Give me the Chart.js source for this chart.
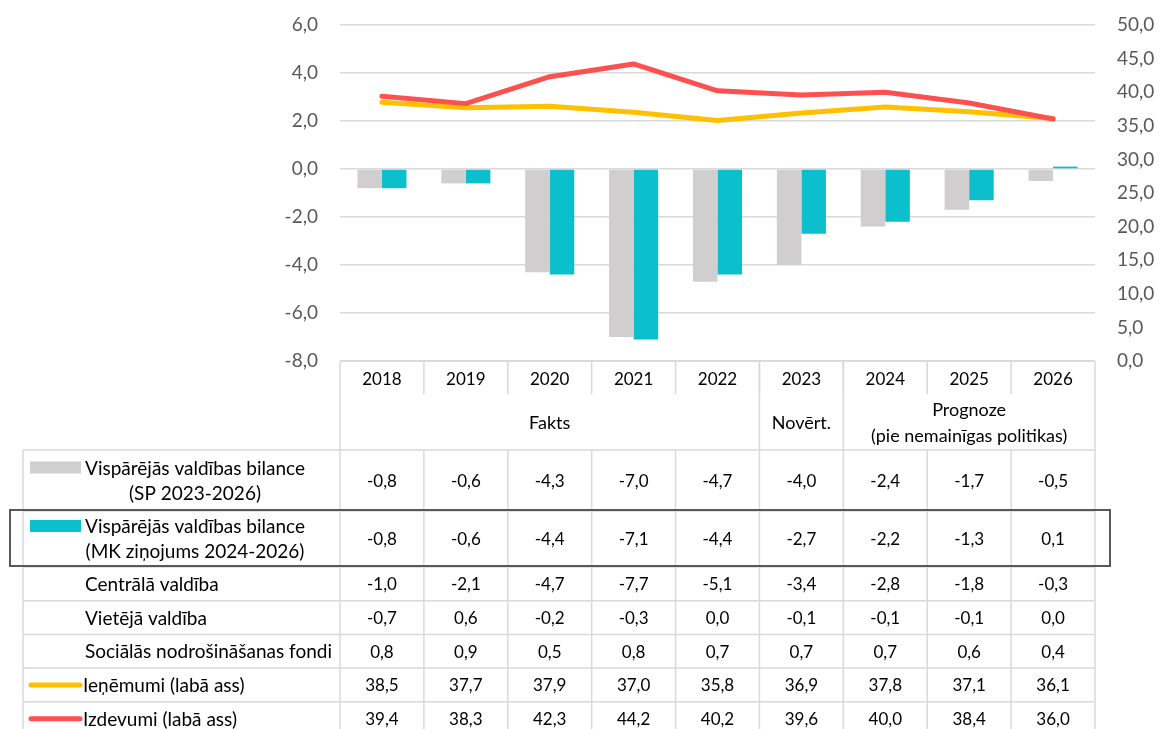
<!DOCTYPE html>
<html lang="lv">
<head>
<meta charset="utf-8">
<title>Vispārējās valdības bilance</title>
<script src="https://cdn.jsdelivr.net/npm/chart.js@4.4.1/dist/chart.umd.min.js"></script>
<style>
  html, body { margin: 0; padding: 0; background: #fff; }
  #wrap { width: 1160px; height: 729px; }
</style>
</head>
<body>
<div id="wrap"><canvas id="chart" width="1160" height="729"></canvas></div>
<script>
const years = ["2018", "2019", "2020", "2021", "2022", "2023", "2024", "2025", "2026"];
const spBalance = [-0.8, -0.6, -4.3, -7.0, -4.7, -4.0, -2.4, -1.7, -0.5];
const mkBalance = [-0.8, -0.6, -4.4, -7.1, -4.4, -2.7, -2.2, -1.3, 0.1];
const centralGov = [-1.0, -2.1, -4.7, -7.7, -5.1, -3.4, -2.8, -1.8, -0.3];
const localGov = [-0.7, 0.6, -0.2, -0.3, 0.0, -0.1, -0.1, -0.1, 0.0];
const socialFunds = [0.8, 0.9, 0.5, 0.8, 0.7, 0.7, 0.7, 0.6, 0.4];
const revenue = [38.5, 37.7, 37.9, 37.0, 35.8, 36.9, 37.8, 37.1, 36.1];
const expenditure = [39.4, 38.3, 42.3, 44.2, 40.2, 39.6, 40.0, 38.4, 36.0];

const groupLabels = [["Fakts"], ["Novērt."], ["Prognoze", "(pie nemainīgas politikas)"]];
const groupSpans = [[0, 4], [5, 5], [6, 8]];

const GRAY = "#D0CECE";
const TEAL = "#0BBFCC";
const YELLOW = "#FFC000";
const RED = "#FF5050";
const GRID = "#D9D9D9";
const FONT = "Lato, 'Open Sans', sans-serif";

const fmt = v => v.toFixed(1).replace(".", ",");

// rows of the table under the chart
const tableRows = [
  { label: ["Vispārējās valdības bilance", "(SP 2023-2026)"], values: spBalance, swatch: "box", color: GRAY, h: 61 },
  { label: ["Vispārējās valdības bilance", "(MK ziņojums 2024-2026)"], values: mkBalance, swatch: "box", color: TEAL, h: 56, boxed: true },
  { label: ["Centrālā valdība"], values: centralGov, h: 33.7 },
  { label: ["Vietējā valdība"], values: localGov, h: 33.7 },
  { label: ["Sociālās nodrošināšanas fondi"], values: socialFunds, h: 33.7 },
  { label: ["Ieņēmumi (labā ass)"], values: revenue, swatch: "line", color: YELLOW, h: 33.7 },
  { label: ["Izdevumi (labā ass)"], values: expenditure, swatch: "line", color: RED, h: 33.7 }
];

const dataTable = {
  id: "dataTable",
  afterDraw(chart) {
    const ctx = chart.ctx;
    const x = chart.scales.x;
    const area = chart.chartArea;
    const colW = (area.right - area.left) / years.length;
    const left = i => x.getPixelForValue(i) - colW / 2;
    const right = i => x.getPixelForValue(i) + colW / 2;
    const top = area.bottom;
    const yearH = 35;
    const groupH = 54;
    const headBottom = top + yearH + groupH;
    const labelLeft = 23;
    const numFont = "17px " + FONT;
    const txtFont = "19px " + FONT;

    ctx.save();
    ctx.strokeStyle = GRID;
    ctx.lineWidth = 1.5;
    ctx.fillStyle = "#000";
    ctx.textBaseline = "middle";
    ctx.textAlign = "center";

    const line = (x1, y1, x2, y2) => {
      ctx.beginPath();
      ctx.moveTo(x1, y1);
      ctx.lineTo(x2, y2);
      ctx.stroke();
    };

    // header: years
    ctx.font = numFont;
    line(area.left, top, area.right, top);
    for (let i = 0; i < years.length; i++) {
      ctx.fillText(years[i], x.getPixelForValue(i), top + yearH / 2 + 1);
      if (i > 0) line(left(i), top, left(i), top + yearH - 2);
    }
    // header: groups
    ctx.font = "18px " + FONT;
    line(area.left, top, area.left, headBottom);
    line(area.right, top, area.right, headBottom);
    groupSpans.forEach((span, g) => {
      const cx = (left(span[0]) + right(span[1])) / 2;
      if (span[0] > 0) line(left(span[0]), top, left(span[0]), headBottom);
      const lines = groupLabels[g];
      const mid = top + yearH + groupH / 2;
      lines.forEach((t, k) => {
        ctx.fillText(t, cx, mid + (k - (lines.length - 1) / 2) * 26);
      });
    });

    // body rows
    let y = headBottom;
    line(labelLeft, y, area.right, y);
    tableRows.forEach(row => {
      const y2 = y + row.h;
      const mid = y + row.h / 2;
      line(labelLeft, y, labelLeft, y2);
      line(area.left, y, area.left, y2);
      for (let i = 1; i < years.length; i++) line(left(i), y, left(i), y2);
      line(area.right, y, area.right, y2);
      line(labelLeft, y2, area.right, y2);

      ctx.fillStyle = "#000";
      ctx.textAlign = "center";
      ctx.font = numFont;
      row.values.forEach((v, i) => ctx.fillText(fmt(v), x.getPixelForValue(i), mid + 1));

      ctx.font = txtFont;
      if (row.label.length > 1) {
        ctx.fillText(row.label[0], 195, mid - 12);
        ctx.fillText(row.label[1], 195, mid + 13);
      } else {
        ctx.textAlign = "left";
        ctx.fillText(row.label[0], row.swatch === "line" ? 83 : 85, mid + 1);
      }

      if (row.swatch === "box") {
        ctx.fillStyle = row.color;
        ctx.fillRect(30, mid - 19, 51, 12);
      } else if (row.swatch === "line") {
        ctx.save();
        ctx.strokeStyle = row.color;
        ctx.lineWidth = 5;
        ctx.lineCap = "round";
        line(31, mid, 80, mid);
        ctx.restore();
      }

      if (row.boxed) {
        ctx.save();
        ctx.strokeStyle = "#595959";
        ctx.lineWidth = 2;
        ctx.strokeRect(10, y - 1, area.right + 15 - 10, row.h);
        ctx.restore();
      }
      y = y2;
    });
    ctx.restore();
  }
};

// fixed axis widths, and no extra vertical padding from the tick padding
const fitAxis = w => s => {
  s.width = w;
  s.paddingTop = 10;
  s.paddingBottom = 10;
};

new Chart(document.getElementById("chart"), {
  type: "bar",
  data: {
    labels: years,
    datasets: [
      {
        type: "line",
        label: "Izdevumi (labā ass)",
        data: expenditure,
        yAxisID: "y1",
        borderColor: RED,
        borderWidth: 5,
        borderCapStyle: "round",
        borderJoinStyle: "round",
        pointRadius: 0,
        order: 0
      },
      {
        type: "line",
        label: "Ieņēmumi (labā ass)",
        data: revenue,
        yAxisID: "y1",
        borderColor: YELLOW,
        borderWidth: 5,
        borderCapStyle: "round",
        borderJoinStyle: "round",
        pointRadius: 0,
        order: 1
      },
      {
        label: "Vispārējās valdības bilance (SP 2023-2026)",
        data: spBalance,
        backgroundColor: GRAY,
        yAxisID: "y",
        order: 2
      },
      {
        label: "Vispārējās valdības bilance (MK ziņojums 2024-2026)",
        data: mkBalance,
        backgroundColor: TEAL,
        yAxisID: "y",
        order: 2
      }
    ]
  },
  options: {
    responsive: false,
    animation: false,
    layout: { padding: { top: 25, bottom: 368, left: 0, right: 0 } },
    datasets: {
      bar: { categoryPercentage: 0.585, barPercentage: 1.0 }
    },
    plugins: {
      legend: { display: false },
      tooltip: { enabled: false }
    },
    scales: {
      x: {
        display: false,
        offset: true
      },
      y: {
        position: "left",
        min: -8,
        max: 6,
        afterFit: fitAxis(340),
        ticks: {
          stepSize: 2,
          padding: 22,
          color: "#595959",
          font: { size: 19, family: FONT },
          callback: v => fmt(v)
        },
        grid: { color: GRID, lineWidth: 1.5, drawTicks: false },
        border: { display: false }
      },
      y1: {
        position: "right",
        min: 0,
        max: 50,
        afterFit: fitAxis(65),
        ticks: {
          stepSize: 5,
          padding: 22,
          color: "#595959",
          font: { size: 19, family: FONT },
          callback: v => fmt(v)
        },
        grid: { display: false, drawTicks: false },
        border: { display: false }
      }
    }
  },
  plugins: [dataTable]
});
</script>
</body>
</html>
